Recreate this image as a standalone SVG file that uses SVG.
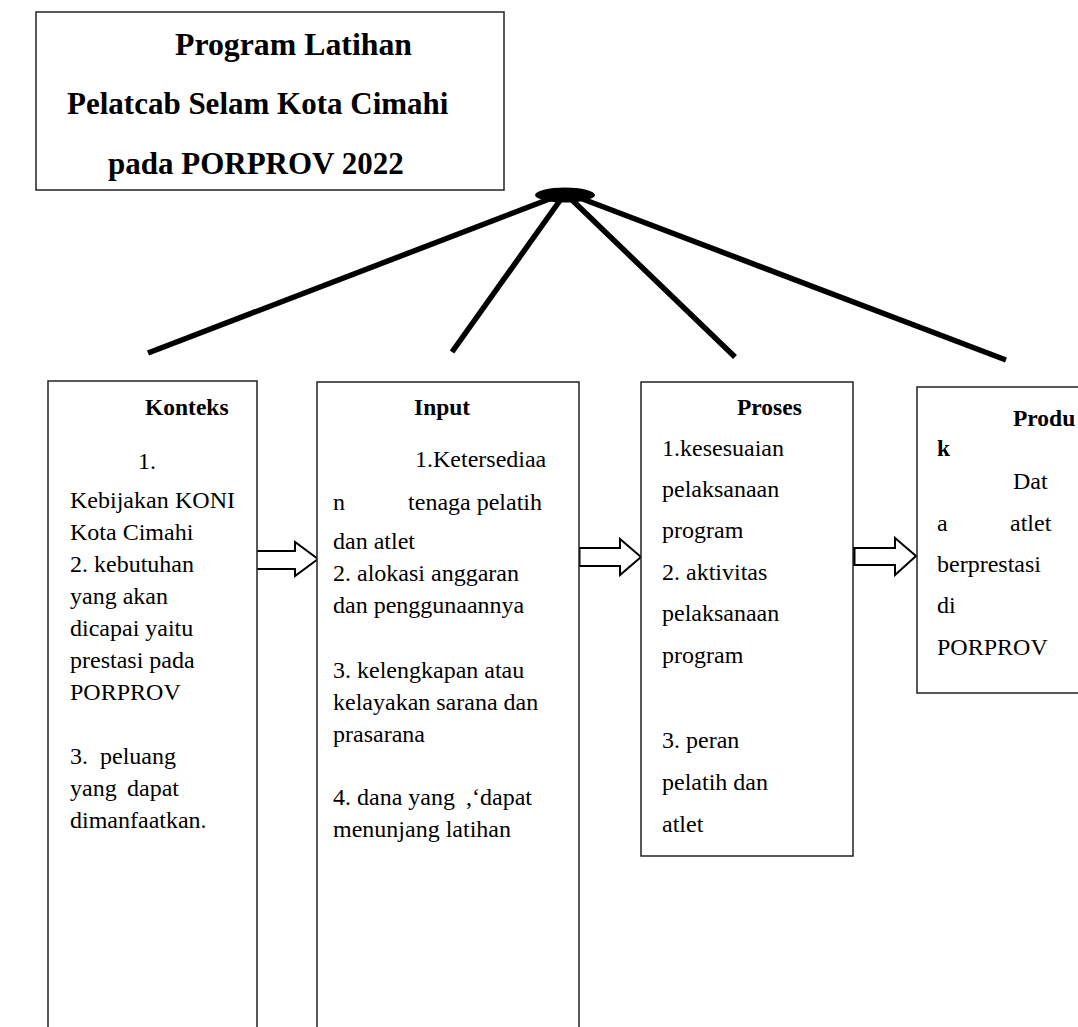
<svg xmlns="http://www.w3.org/2000/svg" width="1078" height="1027" viewBox="0 0 1078 1027">
<style>
.box{fill:#fff;stroke:#222;stroke-width:1.5}
.t{font-family:"Liberation Serif","Times New Roman",serif;font-size:24px;fill:#000}
.b{font-weight:bold;font-size:23.5px}
.title{font-family:"Liberation Serif","Times New Roman",serif;font-size:31px;font-weight:bold;fill:#000}
.ln{stroke:#000;stroke-width:5.5;stroke-linecap:butt}
.arr{fill:#fff;stroke:#000;stroke-width:2;stroke-linejoin:miter}
</style>
<rect width="1078" height="1027" fill="#fff"/>
<g id="title">
<rect class="box" x="36" y="12" width="468" height="178"/>
<text class="title" x="175" y="55" style="font-size:31.8px">Program Latihan</text>
<text class="title" x="67" y="114">Pelatcab Selam Kota Cimahi</text>
<text class="title" x="108" y="174">pada PORPROV 2022</text>
</g>
<g id="connectors">
<ellipse cx="565" cy="195" rx="30" ry="7.5" fill="#000"/>
<line class="ln" x1="552" y1="198" x2="148" y2="353"/>
<line class="ln" x1="561" y1="199" x2="452" y2="352"/>
<line class="ln" x1="571" y1="199" x2="735" y2="357"/>
<line class="ln" x1="580" y1="198" x2="1006" y2="360"/>
<polygon class="arr" points="255,551 295,551 295,542 318,559 295,576 295,569 255,569"/>
<line x1="255" y1="551" x2="255" y2="569" stroke="#000" stroke-width="3"/>
<polygon class="arr" points="579,548 620,548 620,539 641,557 620,575 620,566 579,566"/>
<line x1="579" y1="548" x2="579" y2="566" stroke="#000" stroke-width="3"/>
<polygon class="arr" points="854,548 895,548 895,538 916,556 895,575 895,565 854,565"/>
<line x1="854" y1="548" x2="854" y2="565" stroke="#000" stroke-width="3"/>
</g>
<g id="konteks">
<rect class="box" x="48" y="381" width="209" height="660"/>
<text class="t b" x="145" y="415">Konteks</text>
<text class="t" x="138" y="469">1.</text>
<text class="t" x="70" y="508">Kebijakan</text>
<text class="t" x="235" y="508" text-anchor="end">KONI</text>
<text class="t" x="70" y="540">Kota Cimahi</text>
<text class="t" x="70" y="572">2. kebutuhan</text>
<text class="t" x="70" y="604">yang akan</text>
<text class="t" x="70" y="636">dicapai yaitu</text>
<text class="t" x="70" y="668">prestasi pada</text>
<text class="t" x="70" y="700">PORPROV</text>
<text class="t" x="70" y="764">3.</text>
<text class="t" x="100" y="764">peluang</text>
<text class="t" x="70" y="796">yang</text>
<text class="t" x="127" y="796">dapat</text>
<text class="t" x="70" y="828">dimanfaatkan.</text>
</g>
<g id="input">
<rect class="box" x="317" y="382" width="262" height="660"/>
<text class="t b" x="414" y="415">Input</text>
<text class="t" x="415" y="467">1.Ketersediaa</text>
<text class="t" x="333" y="510">n</text>
<text class="t" x="542" y="510" text-anchor="end">tenaga pelatih</text>
<text class="t" x="333" y="549">dan atlet</text>
<text class="t" x="333" y="581">2. alokasi anggaran</text>
<text class="t" x="333" y="613">dan penggunaannya</text>
<text class="t" x="333" y="678">3. kelengkapan atau</text>
<text class="t" x="333" y="710">kelayakan sarana dan</text>
<text class="t" x="333" y="742">prasarana</text>
<text class="t" x="333" y="805">4. dana yang</text>
<text class="t" x="466" y="805">,‘dapat</text>
<text class="t" x="333" y="837">menunjang latihan</text>
</g>
<g id="proses">
<rect class="box" x="641" y="382" width="212" height="474"/>
<text class="t b" x="737" y="415">Proses</text>
<text class="t" x="662" y="456">1.kesesuaian</text>
<text class="t" x="662" y="497">pelaksanaan</text>
<text class="t" x="662" y="538">program</text>
<text class="t" x="662" y="580">2. aktivitas</text>
<text class="t" x="662" y="621">pelaksanaan</text>
<text class="t" x="662" y="663">program</text>
<text class="t" x="662" y="748">3. peran</text>
<text class="t" x="662" y="790">pelatih dan</text>
<text class="t" x="662" y="832">atlet</text>
</g>
<g id="produk">
<rect class="box" x="917" y="387" width="180" height="306"/>
<text class="t b" x="1013" y="426">Produ</text>
<text class="t b" x="937" y="456">k</text>
<text class="t" x="1013" y="489">Dat</text>
<text class="t" x="937" y="531">a</text>
<text class="t" x="1010" y="531">atlet</text>
<text class="t" x="937" y="572">berprestasi</text>
<text class="t" x="937" y="613">di</text>
<text class="t" x="937" y="655">PORPROV</text>
</g>
</svg>
